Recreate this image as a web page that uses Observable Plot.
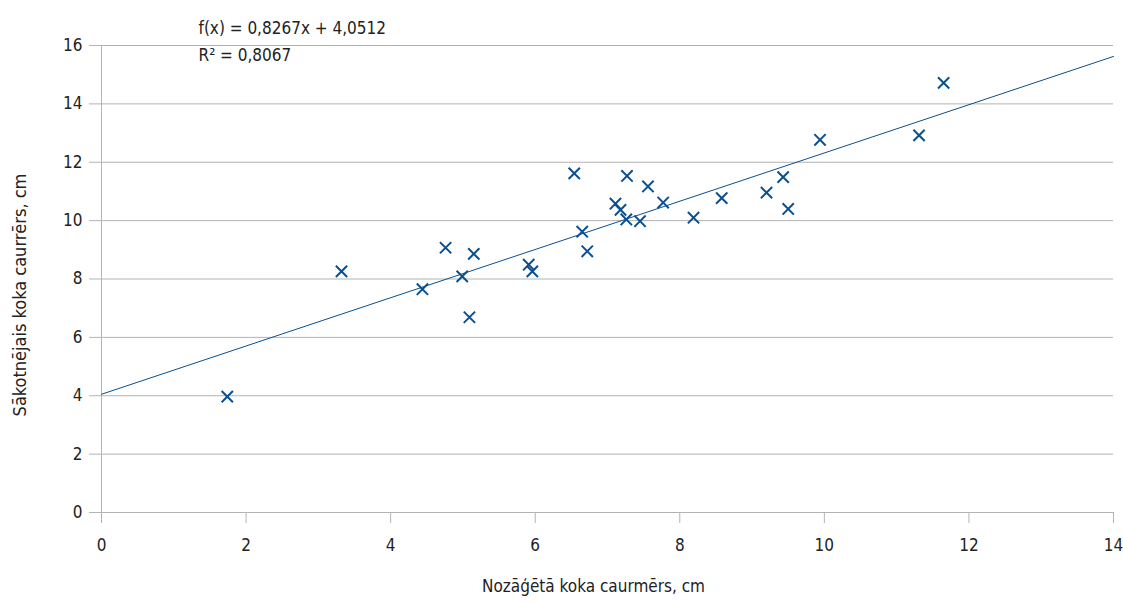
<!DOCTYPE html>
<html>
<head>
<meta charset="utf-8">
<script src="https://cdn.jsdelivr.net/npm/d3@7"></script>
<script src="https://cdn.jsdelivr.net/npm/@observablehq/plot@0.6"></script>
<style>
  html, body { margin: 0; padding: 0; background: #fff; }
  #chart svg { display: block; font-stretch: condensed; }
  #chart svg text { font-stretch: condensed; }
</style>
</head>
<body>
<div id="chart"></div>
<script>
const xValues = [1.74, 3.32, 4.44, 4.76, 4.99, 5.15, 5.09, 5.91, 5.96, 6.54, 6.65, 6.72, 7.11, 7.18, 7.26, 7.27, 7.45, 7.56, 7.77, 8.19, 8.58, 9.20, 9.43, 9.50, 9.94, 11.31, 11.65];
const yValues = [3.97, 8.26, 7.65, 9.07, 8.09, 8.86, 6.69, 8.49, 8.26, 11.62, 9.62, 8.95, 10.58, 10.37, 10.04, 11.53, 9.98, 11.17, 10.62, 10.10, 10.77, 10.96, 11.49, 10.40, 12.77, 12.92, 14.72];
const slope = 0.8267;
const intercept = 4.0512;
const rSquared = "0,8067";
const xTicks = [0, 2, 4, 6, 8, 10, 12, 14];
const yTicks = [0, 2, 4, 6, 8, 10, 12, 14, 16];
const xLabel = "Nozāģētā koka caurmērs, cm";
const yLabel = "Sākotnējais koka caurrērs, cm";
const eqText = "f(x) = 0,8267x + 4,0512";
const r2Text = "R² = " + rSquared;

const points = xValues.map((x, i) => ({x, y: yValues[i]}));
const trend = [0, 14].map(x => ({x, y: slope * x + intercept}));

const blue = "#0a4f90";
const grid = "#b3b3b3";
const font = "'DejaVu Sans', sans-serif";

const chart = Plot.plot({
  width: 1123,
  height: 604,
  marginLeft: 101,
  marginRight: 10,
  marginTop: 45,
  marginBottom: 92,
  style: {fontFamily: font, fontSize: "17px", color: "#222", background: "#fff"},
  x: {type: "linear", domain: [0, 14], label: null},
  y: {type: "linear", domain: [0, 16], label: null},
  marks: [
    Plot.gridY(yTicks, {stroke: grid, strokeOpacity: 1, strokeWidth: 1}),
    Plot.ruleY([0], {stroke: grid, strokeWidth: 1}),
    Plot.ruleX([0], {stroke: grid, strokeWidth: 1}),
    Plot.axisX(xTicks, {tickSize: 11, tickPadding: 15, stroke: grid, strokeOpacity: 1, tickFormat: d => String(d), fontSize: 17, fill: "#222"}),
    Plot.axisY(yTicks, {tickSize: 12, tickPadding: 7, stroke: grid, strokeOpacity: 1, tickFormat: d => String(d), fontSize: 17, fill: "#222"}),
    Plot.line(trend, {x: "x", y: "y", stroke: blue, strokeWidth: 1}),
    Plot.dot(points, {x: "x", y: "y", symbol: "times", r: 5.2, stroke: blue, strokeWidth: 2}),
    Plot.text([eqText], {frameAnchor: "top-left", dx: 97, dy: -24, text: d => d, textAnchor: "start", fontSize: 17, fill: "#222"}),
    Plot.text([r2Text], {frameAnchor: "top-left", dx: 97, dy: 3, text: d => d, textAnchor: "start", fontSize: 17, fill: "#222"}),
    Plot.text([xLabel], {frameAnchor: "bottom", dx: -14, dy: 79, text: d => d, textAnchor: "middle", fontSize: 17, fill: "#222"}),
    Plot.text([yLabel], {frameAnchor: "left", dx: -81, dy: 16, rotate: -90, text: d => d, textAnchor: "middle", fontSize: 18, fill: "#222"})
  ]
});
document.getElementById("chart").appendChild(chart);
</script>
</body>
</html>
